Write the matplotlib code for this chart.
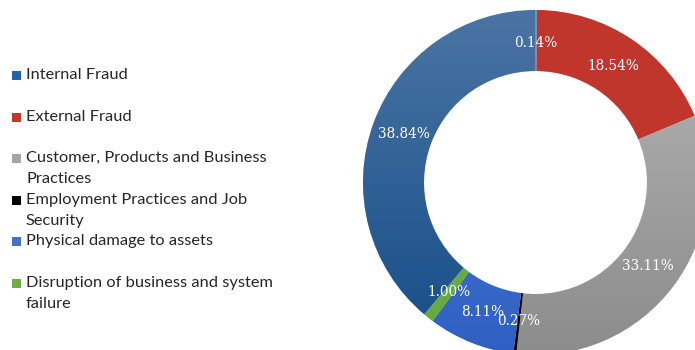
import numpy as np
import matplotlib.pyplot as plt
from matplotlib.colors import to_rgb
from matplotlib.patches import Rectangle

# slices clockwise from 12 o'clock
shares = [0.14, 18.54, 33.11, 0.27, 8.11, 1.00, 38.84]
top_colors = ['#6D93C0', '#C2372D', '#B5B5B5', '#000000', '#5282D6', '#6CB046', '#4B74A4']
bottom_colors = ['#6D93C0', '#BC352B', '#8C8C8C', '#000000', '#2F5FC2', '#66A841', '#154D87']

# legend entries (top to bottom)
legend_labels = ['Internal Fraud', 'External Fraud',
                 'Customer, Products and Business\nPractices',
                 'Employment Practices and Job\nSecurity',
                 'Physical damage to assets',
                 'Disruption of business and system\nfailure']
legend_colors = ['#1F64AA', '#C0392B', '#A5A5A5', '#000000', '#4472C4', '#70AD47']

W, H = 695, 350
fig = plt.figure(figsize=(W / 100, H / 100), dpi=100)
ax = fig.add_axes([0, 0, 1, 1])

cx, cy = 535.5, H - 182.5
R = 172.5
ring = 61

wedges, texts, autotexts = ax.pie(
    shares, center=(cx, cy), radius=R, startangle=90, counterclock=False,
    colors=top_colors, autopct=lambda p: f'{p:.2f}%',
    pctdistance=140 / R,
    wedgeprops=dict(width=ring, linewidth=0.4, edgecolor='white'),
    textprops=dict(color='white', fontsize=9.8, family='DejaVu Serif'))

# vertical shading inside every wedge
yy = np.linspace(0, 1, 256)[:, None]
for w, c1, c2 in zip(wedges, top_colors, bottom_colors):
    a, b = np.array(to_rgb(c1)), np.array(to_rgb(c2))
    img = (a * (1 - yy) + b * yy)[:, None, :].repeat(2, axis=1)
    im = ax.imshow(img, extent=(cx - R, cx + R, cy - R, cy + R),
                   origin='upper', aspect='auto', zorder=w.get_zorder() + 0.1)
    im.set_clip_path(w)
for t in autotexts:
    t.set_zorder(5)

ax.set_xlim(0, W)
ax.set_ylim(0, H)
ax.set_aspect('auto')
ax.axis('off')

# legend drawn on the left
rows = [75, 117, 158, 200, 241, 283]
for y, lab, col in zip(rows, legend_labels, legend_colors):
    fig.patches.append(Rectangle((12 / W, 1 - (y + 4.5) / H), 9 / W, 9 / H,
                                 transform=fig.transFigure, facecolor=col,
                                 edgecolor='none'))
    fig.text(26 / W, 1 - (y - 7) / H, lab, ha='left', va='top', fontsize=11.8,
             family='Lato', color='#262626', linespacing=1.62)

fig.savefig('out.png', dpi=100)
